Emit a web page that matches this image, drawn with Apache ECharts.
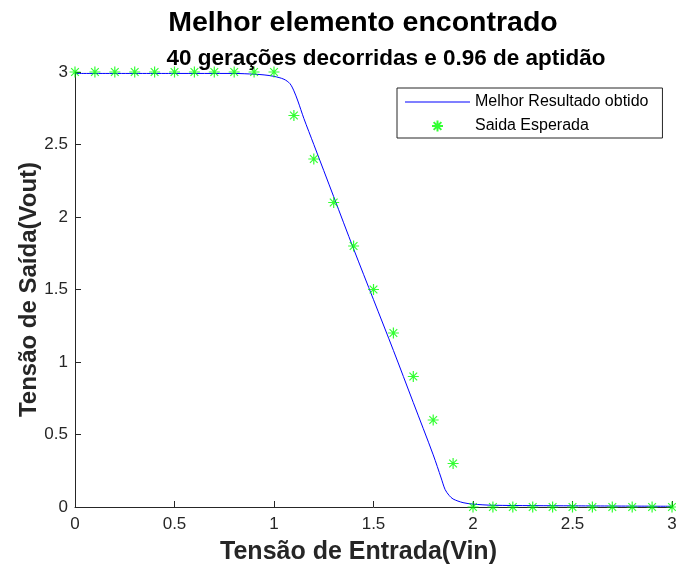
<!DOCTYPE html>
<html>
<head>
<meta charset="utf-8">
<script src="https://cdn.jsdelivr.net/npm/echarts@6/dist/echarts.min.js"></script>
<style>
  html, body { margin: 0; padding: 0; background: #fff; }
  #chart { width: 676px; height: 569px; }
</style>
</head>
<body>
<div id="chart"></div>
<script>
// Best individual's transfer curve (Vin -> Vout)
const curveVin  = [0, 0.5, 0.8, 0.9, 0.95, 1.0, 1.05, 1.08, 1.1, 1.12, 1.15, 1.2, 1.3, 1.4, 1.5, 1.6, 1.7, 1.8, 1.84, 1.86, 1.88, 1.9, 1.95, 2.0, 2.1, 2.5, 3.0];
const curveVout = [2.99, 2.99, 2.99, 2.985, 2.98, 2.97, 2.95, 2.92, 2.87, 2.80, 2.68, 2.50, 2.14, 1.78, 1.43, 1.08, 0.72, 0.36, 0.20, 0.12, 0.08, 0.055, 0.03, 0.02, 0.012, 0.008, 0.005];

// Expected output samples
const expectedVin  = [0, 0.1, 0.2, 0.3, 0.4, 0.5, 0.6, 0.7, 0.8, 0.9, 1.0, 1.1, 1.2, 1.3, 1.4, 1.5, 1.6, 1.7, 1.8, 1.9, 2.0, 2.1, 2.2, 2.3, 2.4, 2.5, 2.6, 2.7, 2.8, 2.9, 3.0];
const expectedVout = [3, 3, 3, 3, 3, 3, 3, 3, 3, 3, 3, 2.7, 2.4, 2.1, 1.8, 1.5, 1.2, 0.9, 0.6, 0.3, 0, 0, 0, 0, 0, 0, 0, 0, 0, 0, 0];

const tickStep = 0.5;
const axisMin = 0, axisMax = 3;

const titleText = 'Melhor elemento encontrado';
const subtitleText = '40 gerações decorridas e 0.96 de aptidão';
const xName = 'Tensão de Entrada(Vin)';
const yName = 'Tensão de Saída(Vout)';
const lineName = 'Melhor Resultado obtido';
const starName = 'Saida Esperada';

const FONT = 'Liberation Sans, Arial, sans-serif';
const AX = '#262626';
// eight-spoke asterisk marker, stroked
const STAR = 'path://M0,-1L0,1M-1,0L1,0M-0.7,-0.7L0.7,0.7M-0.7,0.7L0.7,-0.7';
// thin bar used as the line's legend sample
const LINE_ICON = 'path://M0,0H64V1H0Z';

const chart = echarts.init(document.getElementById('chart'), null, { renderer: 'canvas' });

chart.setOption({
  backgroundColor: '#ffffff',
  animation: false,
  title: [
    { text: titleText, left: 358, top: 4, textAlign: 'center',
      textStyle: { fontFamily: FONT, fontWeight: 'bold', fontSize: 28.5, color: '#000' } },
    { text: subtitleText, left: 381, top: 42, textAlign: 'center',
      textStyle: { fontFamily: FONT, fontWeight: 'bold', fontSize: 22.5, color: '#000' } }
  ],
  grid: { left: 75, right: 4, top: 72, bottom: 62, containLabel: false, outerBoundsMode: 'none' },
  legend: {
    orient: 'vertical',
    left: 397, top: 88,
    padding: [6, 14, 4, 8],
    itemGap: 8,
    itemWidth: 65,
    itemHeight: 11,
    borderColor: '#262626',
    borderWidth: 1,
    backgroundColor: '#fff',
    textStyle: { fontFamily: FONT, fontSize: 16, color: '#000' },
    data: [
      { name: lineName, icon: LINE_ICON },
      { name: starName, icon: STAR }
    ]
  },
  xAxis: {
    type: 'value', min: axisMin, max: axisMax, interval: tickStep,
    name: xName, nameLocation: 'middle', nameGap: 33,
    nameTextStyle: { fontFamily: FONT, fontWeight: 'bold', fontSize: 25, color: AX, padding: [0, 30, 0, 0] },
    axisLine: { show: true, onZero: false, lineStyle: { color: AX, width: 1 } },
    axisTick: { show: true, inside: true, length: 6, lineStyle: { color: AX } },
    axisLabel: { fontFamily: FONT, fontSize: 17, color: AX, margin: 9 },
    splitLine: { show: false }
  },
  yAxis: {
    type: 'value', min: axisMin, max: axisMax, interval: tickStep,
    name: yName, nameLocation: 'middle', nameGap: 34, nameMoveOverlap: false,
    nameTextStyle: { fontFamily: FONT, fontWeight: 'bold', fontSize: 24, color: AX },
    axisLine: { show: true, onZero: false, lineStyle: { color: AX, width: 1 } },
    axisTick: { show: true, inside: true, length: 6, lineStyle: { color: AX } },
    axisLabel: { fontFamily: FONT, fontSize: 17, color: AX, margin: 7 },
    splitLine: { show: false }
  },
  series: [
    {
      name: lineName, type: 'line',
      data: curveVin.map((v, i) => [v, curveVout[i]]),
      smooth: 0.3, showSymbol: false, symbol: 'none',
      lineStyle: { color: '#0000ff', width: 1 },
      itemStyle: { color: '#0000ff' },
      z: 2
    },
    {
      name: starName, type: 'scatter',
      data: expectedVin.map((v, i) => [v, expectedVout[i]]),
      symbol: STAR, symbolSize: 11,
      itemStyle: { color: 'rgba(0,0,0,0)', borderColor: '#00ff00', borderWidth: 1.2 },
      z: 3
    }
  ]
});
</script>
</body>
</html>
